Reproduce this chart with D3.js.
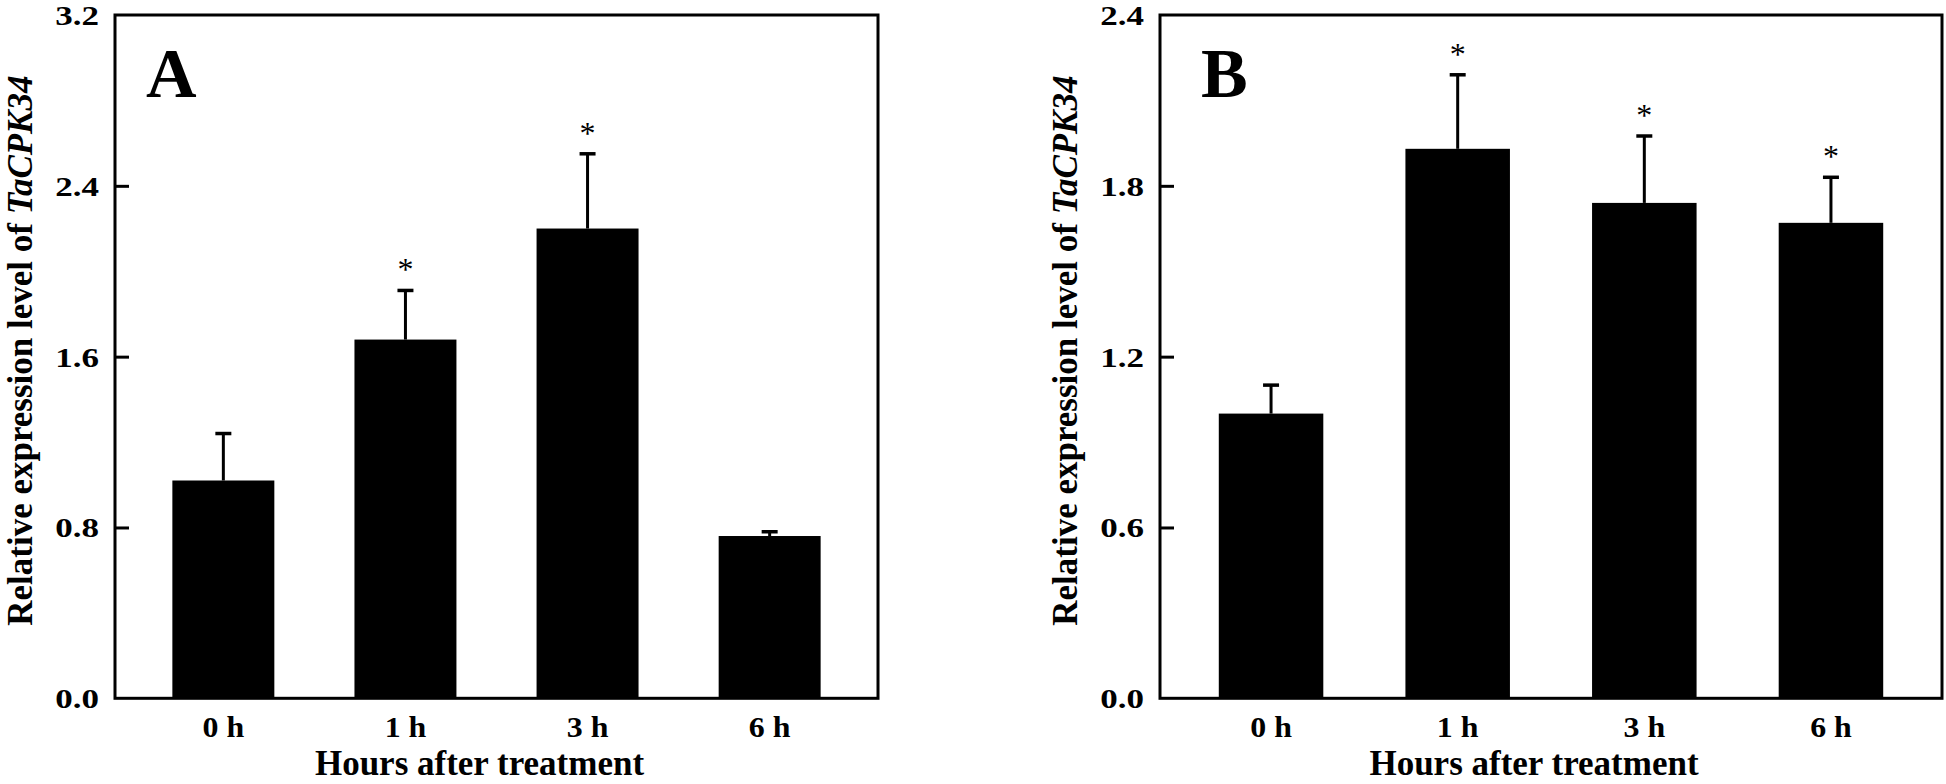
<!DOCTYPE html>
<html>
<head>
<meta charset="utf-8">
<script src="https://cdn.jsdelivr.net/npm/d3@7/dist/d3.min.js"></script>
<style>
  html, body { margin: 0; padding: 0; background: #ffffff; }
  svg { display: block; }
  text { font-family: "Liberation Serif", "Times New Roman", serif; fill: #000; }
</style>
</head>
<body>
<svg id="chart" width="1946" height="784"></svg>
<script>
// ---- data ----
const categories = ["0 h", "1 h", "3 h", "6 h"];

const valuesA = [1.02, 1.68, 2.20, 0.76];
const errorsA = [0.22, 0.23, 0.35, 0.02];
const signifA = ["", "*", "*", ""];
const ticksA = [0.0, 0.8, 1.6, 2.4, 3.2];

const valuesB = [1.00, 1.93, 1.74, 1.67];
const errorsB = [0.10, 0.26, 0.235, 0.16];
const signifB = ["", "*", "*", "*"];
const ticksB = [0.0, 0.6, 1.2, 1.8, 2.4];

const panelLabels = ["A", "B"];
const xTitle = "Hours after treatment";
const yTitlePlain = "Relative expression level of ";
const yTitleGene = "TaCPK34";

// ---- drawing ----
const svg = d3.select("#chart");

function drawPanel(cfg) {
  const { left, right, top, bottom, values, errors, signif, ticks, label, labelDx } = cfg;
  const g = svg.append("g");

  const x = d3.scaleBand().domain(categories).range([left, right])
    .paddingInner(0.44).paddingOuter(0.315);
  const y = d3.scaleLinear().domain([ticks[0], ticks[ticks.length - 1]]).range([bottom, top]);

  // bars
  g.selectAll("rect.bar").data(values).enter().append("rect")
    .attr("class", "bar")
    .attr("x", (d, i) => x(categories[i]))
    .attr("width", x.bandwidth())
    .attr("y", d => y(d))
    .attr("height", d => y(0) - y(d))
    .attr("fill", "#000");

  // error bars (upper only)
  const capW = 16;
  g.selectAll("line.stem").data(values).enter().append("line")
    .attr("x1", (d, i) => x(categories[i]) + x.bandwidth() / 2)
    .attr("x2", (d, i) => x(categories[i]) + x.bandwidth() / 2)
    .attr("y1", d => y(d))
    .attr("y2", (d, i) => y(d + errors[i]))
    .attr("stroke", "#000").attr("stroke-width", 3);
  g.selectAll("line.cap").data(values).enter().append("line")
    .attr("x1", (d, i) => x(categories[i]) + x.bandwidth() / 2 - capW / 2)
    .attr("x2", (d, i) => x(categories[i]) + x.bandwidth() / 2 + capW / 2)
    .attr("y1", (d, i) => y(d + errors[i]))
    .attr("y2", (d, i) => y(d + errors[i]))
    .attr("stroke", "#000").attr("stroke-width", 3.5);

  // significance stars
  g.selectAll("text.star").data(values).enter().append("text")
    .attr("x", (d, i) => x(categories[i]) + x.bandwidth() / 2)
    .attr("y", (d, i) => y(d + errors[i]) - 10)
    .attr("text-anchor", "middle")
    .attr("font-size", 32)
    .text((d, i) => signif[i]);

  // y axis (ticks pointing inward)
  const yAxis = d3.axisLeft(y).tickValues(ticks).tickFormat(d3.format(".1f"))
    .tickSize(-14).tickSizeOuter(0);
  const ya = g.append("g").attr("transform", `translate(${left},0)`).call(yAxis);
  ya.select(".domain").remove();
  ya.selectAll(".tick line").attr("stroke", "#000").attr("stroke-width", 3);
  ya.selectAll(".tick").filter(d => d === ticks[0] || d === ticks[ticks.length - 1])
    .select("line").remove();
  ya.selectAll(".tick text")
    .attr("x", null).attr("dy", null)
    .attr("transform", "translate(-16,9.5) scale(1.25,1)")
    .attr("text-anchor", "end")
    .attr("font-family", "Liberation Serif, Times New Roman, serif")
    .attr("font-weight", "bold")
    .attr("font-size", 28)
    .attr("fill", "#000");

  // x axis labels
  const xAxis = d3.axisBottom(x).tickSize(0).tickSizeOuter(0);
  const xa = g.append("g").attr("transform", `translate(0,${bottom})`).call(xAxis);
  xa.select(".domain").remove();
  xa.selectAll(".tick text")
    .attr("y", null).attr("dy", null)
    .attr("transform", "translate(0,38.7) scale(1.1,1)")
    .attr("text-anchor", "middle")
    .attr("font-family", "Liberation Serif, Times New Roman, serif")
    .attr("font-weight", "bold")
    .attr("font-size", 29)
    .attr("fill", "#000");

  // frame
  g.append("rect")
    .attr("x", left).attr("y", top)
    .attr("width", right - left).attr("height", bottom - top)
    .attr("fill", "none").attr("stroke", "#000").attr("stroke-width", 3);

  // x title
  g.append("text")
    .attr("x", (left + right) / 2 - 17)
    .attr("y", 775)
    .attr("text-anchor", "middle")
    .attr("font-weight", "bold")
    .attr("font-size", 35)
    .text(xTitle);

  // y title
  const yt = g.append("text")
    .attr("transform", `translate(${left - 83},${(top + bottom) / 2 - 6}) rotate(-90)`)
    .attr("text-anchor", "middle")
    .attr("font-weight", "bold")
    .attr("font-size", 35);
  yt.append("tspan").text(yTitlePlain);
  yt.append("tspan").attr("font-style", "italic").text(yTitleGene);

  // panel letter
  g.append("text")
    .attr("x", left + labelDx)
    .attr("y", 96.7)
    .attr("font-weight", "bold")
    .attr("font-size", 70)
    .text(label);
}

drawPanel({ left: 115, right: 878, top: 15, bottom: 698.3,
  values: valuesA, errors: errorsA, signif: signifA, ticks: ticksA,
  label: panelLabels[0], labelDx: 31 });
drawPanel({ left: 1160, right: 1942, top: 15, bottom: 698.3,
  values: valuesB, errors: errorsB, signif: signifB, ticks: ticksB,
  label: panelLabels[1], labelDx: 41 });
</script>
</body>
</html>
